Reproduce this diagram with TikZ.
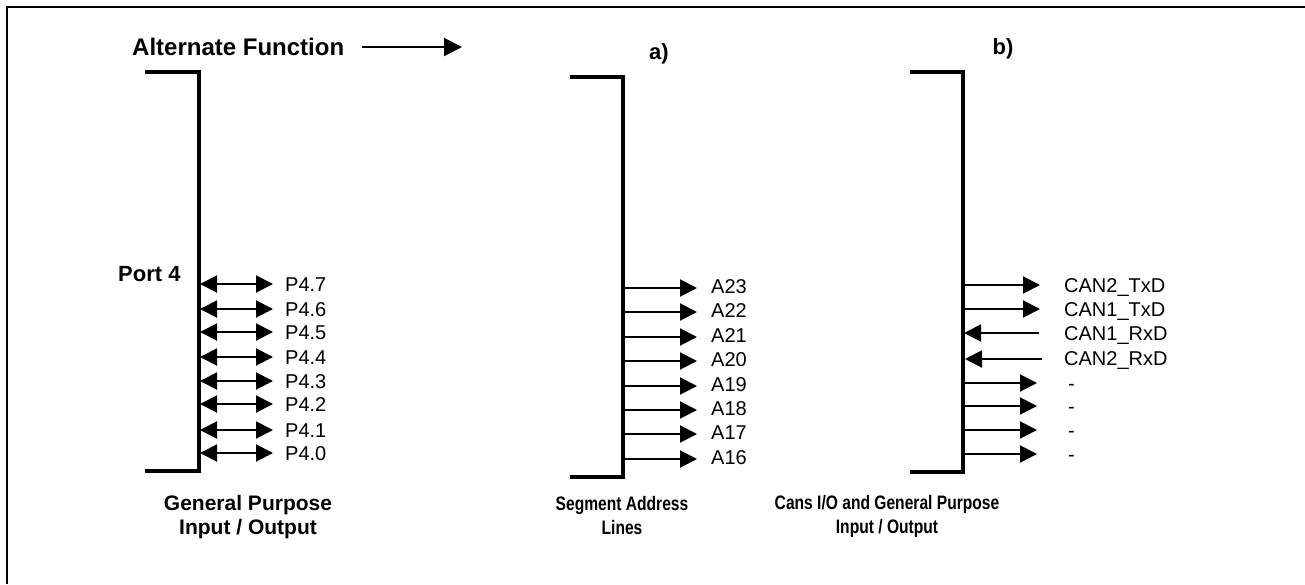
\documentclass[tikz,border=0pt]{standalone}
\usepackage{fontspec}
\setmainfont{Liberation Sans}
\newfontfamily\narrowbold[FakeStretch=0.8]{Liberation Sans Bold}
\usetikzlibrary{arrows.meta}
\begin{document}
\begin{tikzpicture}[x=1pt,y=-1pt,
  bracketline/.style={line width=4pt,line cap=rect},
  sig/.style={line width=2pt,-{Triangle[length=17pt,width=17pt]}},
  bisig/.style={line width=2pt,{Triangle[length=17pt,width=17pt]}-{Triangle[length=17pt,width=17pt]}},
  lbl/.style={font=\fontsize{20}{24}\selectfont,inner sep=0pt,anchor=west,text height=14.3pt,text depth=0pt},
  ttl/.style={font=\fontsize{24}{28}\selectfont\bfseries,inner sep=0pt,text height=17.2pt,text depth=0pt},
  sub/.style={font=\fontsize{22}{26}\selectfont\bfseries,inner sep=0pt,text height=15.8pt,text depth=0pt},
  captext/.style={align=center,inner sep=0pt,font=\fontsize{21}{24}\selectfont\bfseries},
  ncaptext/.style={align=center,inner sep=0pt,font=\fontsize{19.5}{24}\selectfont\narrowbold}]
\useasboundingbox (0,0) rectangle (1305,584);
\fill[white] (0,0) rectangle (1305,584);
% frame
\draw[line width=2pt] (1305,7) -- (7,7) -- (7,584);
% title
\node[ttl,anchor=west] (title) at (132,47) {Alternate Function};
\coordinate (tarrowA) at (362,47);
\coordinate (tarrowB) at (462,47);
\draw[line width=2pt,-{Triangle[length=18pt,width=18pt]}] (tarrowA) -- (tarrowB);
\node[sub] (la) at (659,52) {a)};
\node[sub] (lb) at (1003,47) {b)};
% brackets
\draw[bracketline] (147,72) -- (199,72) -- (199,471) -- (147,471);
\draw[bracketline] (572,77) -- (623,77) -- (623,477) -- (572,477);
\draw[bracketline] (912,72) -- (963,72) -- (963,472) -- (912,472);
% port 4
\node[sub,anchor=west] (port) at (118,274) {Port 4};
\foreach \y/\t [count=\i] in {284/7,309/6,332/5,357/4,381/3,404/2,430/1,453/0}{
  \coordinate (ps\i) at (200,\y);
  \coordinate (pe\i) at (273,\y);
  \node[lbl] (pl\i) at (285,\y) {P4.\t};
  \draw[bisig] (ps\i) -- (pe\i);
}
% segment address
\foreach \y/\t [count=\i] in {288/23,312/22,337/21,361/20,386/19,410/18,434/17,459/16}{
  \coordinate (as\i) at (624,\y);
  \coordinate (ae\i) at (697,\y);
  \node[lbl] (al\i) at (711,\y-1.5) {A\t};
  \draw[sig] (as\i) -- (ae\i);
}
% CAN
\coordinate (cs1) at (964,285); \coordinate (ce1) at (1040,285);
\coordinate (cs2) at (964,309); \coordinate (ce2) at (1040,309);
\coordinate (cs3) at (1039,333); \coordinate (ce3) at (964,333);
\coordinate (cs4) at (1042,359); \coordinate (ce4) at (965,359);
\node[lbl] (cl1) at (1064,285) {CAN2\_TxD};
\node[lbl] (cl2) at (1064,309) {CAN1\_TxD};
\node[lbl] (cl3) at (1064,333) {CAN1\_RxD};
\node[lbl] (cl4) at (1064,358) {CAN2\_RxD};
\foreach \i in {1,...,4}{\draw[sig] (cs\i) -- (ce\i);}
\foreach \y [count=\i from 5] in {383,406,430,454}{
  \coordinate (cs\i) at (964,\y);
  \coordinate (ce\i) at (1037,\y);
  \node[lbl] (cl\i) at (1068,\y) {-};
  \draw[sig] (cs\i) -- (ce\i);
}
% captions
\node[captext] (cap1) at (248,517) {General Purpose\\Input / Output};
\node[ncaptext] (cap2) at (622,516) {Segment Address\\Lines};
\node[ncaptext] (cap3) at (887,516) {Cans I/O and General Purpose\\Input / Output};
\end{tikzpicture}
\end{document}
